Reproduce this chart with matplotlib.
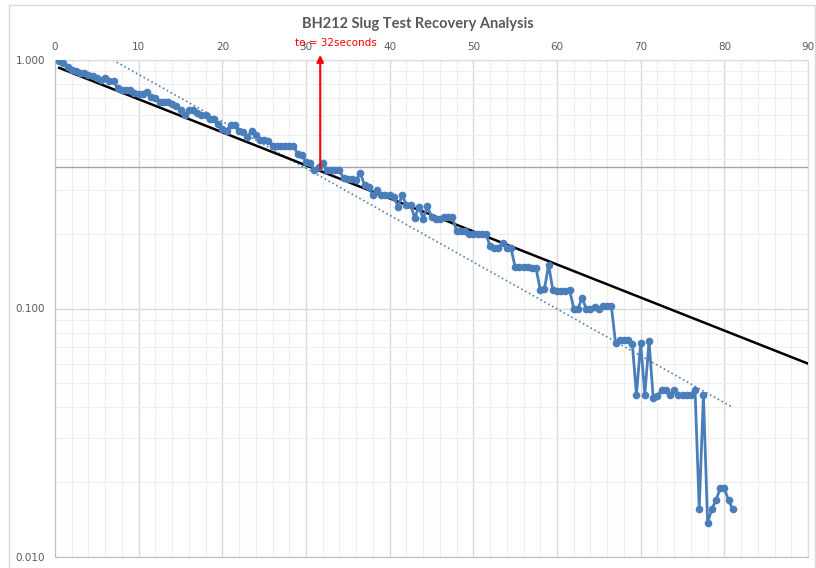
import numpy as np
import matplotlib
matplotlib.use("Agg")
import matplotlib.pyplot as plt
from matplotlib.patches import Rectangle
from matplotlib.ticker import FixedLocator, NullFormatter, LogLocator

# recovery data, H/Ho against time (s)
time_s = [0.5, 1.0, 1.5, 2.0, 2.5, 3.0, 3.5, 4.0, 4.5, 5.0,
          5.5, 6.0, 6.5, 7.0, 7.5, 8.0, 8.5, 9.0, 9.5, 10.0,
          10.5, 11.0, 11.5, 12.0, 12.5, 13.0, 13.5, 14.0, 14.5, 15.0,
          15.5, 16.0, 16.5, 17.0, 17.5, 18.0, 18.5, 19.0, 19.5, 20.0,
          20.5, 21.0, 21.5, 22.0, 22.5, 23.0, 23.5, 24.0, 24.5, 25.0,
          25.5, 26.0, 26.5, 27.0, 27.5, 28.0, 28.5, 29.0, 29.5, 30.0,
          30.5, 31.0, 31.5, 32.0, 32.5, 33.0, 33.5, 34.0, 34.5, 35.0,
          35.5, 36.0, 36.5, 37.0, 37.5, 38.0, 38.5, 39.0, 39.5, 40.0,
          40.5, 41.0, 41.5, 42.0, 42.5, 43.0, 43.5, 44.0, 44.5, 45.0,
          45.5, 46.0, 46.5, 47.0, 47.5, 48.0, 48.5, 49.0, 49.5, 50.0,
          50.5, 51.0, 51.5, 52.0, 52.5, 53.0, 53.5, 54.0, 54.5, 55.0,
          55.5, 56.0, 56.5, 57.0, 57.5, 58.0, 58.5, 59.0, 59.5, 60.0,
          60.5, 61.0, 61.5, 62.0, 62.5, 63.0, 63.5, 64.0, 64.5, 65.0,
          65.5, 66.0, 66.5, 67.0, 67.5, 68.0, 68.5, 69.0, 69.5, 70.0,
          70.5, 71.0, 71.5, 72.0, 72.5, 73.0, 73.5, 74.0, 74.5, 75.0,
          75.5, 76.0, 76.5, 77.0, 77.5, 78.0, 78.5, 79.0, 79.5, 80.0,
          80.5, 81.0]
h_ratio = [0.99, 0.97, 0.94, 0.91, 0.905, 0.89, 0.89, 0.87, 0.86, 0.85,
           0.83, 0.845, 0.82, 0.82, 0.77, 0.76, 0.76, 0.76, 0.735, 0.73,
           0.73, 0.74, 0.71, 0.70, 0.68, 0.68, 0.68, 0.665, 0.65, 0.63,
           0.60, 0.63, 0.63, 0.61, 0.60, 0.60, 0.577, 0.577, 0.553, 0.53,
           0.52, 0.548, 0.548, 0.52, 0.515, 0.49, 0.518, 0.50, 0.476, 0.476,
           0.47, 0.45, 0.45, 0.45, 0.45, 0.45, 0.45, 0.42, 0.415, 0.39,
           0.385, 0.36, 0.37, 0.386, 0.36, 0.36, 0.36, 0.36, 0.334, 0.333,
           0.333, 0.33, 0.35, 0.314, 0.307, 0.286, 0.30, 0.286, 0.286, 0.285,
           0.282, 0.257, 0.286, 0.26, 0.26, 0.232, 0.257, 0.23, 0.258, 0.233,
           0.23, 0.23, 0.233, 0.233, 0.233, 0.205, 0.205, 0.205, 0.20, 0.20,
           0.20, 0.20, 0.20, 0.178, 0.175, 0.175, 0.184, 0.175, 0.175, 0.1465,
           0.1465, 0.1465, 0.1465, 0.145, 0.145, 0.1187, 0.12, 0.15, 0.1187, 0.118,
           0.118, 0.118, 0.119, 0.10, 0.10, 0.11, 0.10, 0.10, 0.101, 0.10,
           0.102, 0.102, 0.102, 0.0724, 0.075, 0.0745, 0.0745, 0.072, 0.0449, 0.0729,
           0.045, 0.0742, 0.0435, 0.0445, 0.047, 0.047, 0.045, 0.047, 0.045, 0.045,
           0.045, 0.045, 0.047, 0.0156, 0.045, 0.0137, 0.0156, 0.0169, 0.0189, 0.0189,
           0.0169, 0.0156]

# straight-line fits (end points)
fit_t = [0.5, 90]
fit_h = [0.93, 0.060]
dot_t = [6.9, 81]
dot_h = [1.0, 0.040]

t0 = 31.7
h_037 = 0.37
arrow_base = 0.357

fig = plt.figure(figsize=(8.16, 5.68), dpi=100)
ax = fig.add_axes([55/816, 1-557/568, (808-55)/816, (557-60)/568])

ax.set_yscale('log')
ax.set_xlim(0, 90)
ax.set_ylim(0.01, 1.0)

# grid
ax.xaxis.set_major_locator(FixedLocator(np.arange(0, 91, 10)))
ax.xaxis.set_minor_locator(FixedLocator(np.arange(0, 91, 2)))
ax.yaxis.set_major_locator(FixedLocator([0.01, 0.1, 1.0]))
ax.yaxis.set_minor_locator(LogLocator(base=10, subs=np.arange(2, 10)))
ax.yaxis.set_minor_formatter(NullFormatter())
ax.set_yticklabels(['0.010', '0.100', '1.000'])
ax.grid(which='major', color='#d9d9d9', lw=1.0)
ax.grid(which='minor', color='#eeeeee', lw=0.8)
ax.set_axisbelow(True)

ax.xaxis.tick_top()
ax.tick_params(which='both', length=0, colors='#595959', labelsize=7.5)
ax.tick_params(axis='x', pad=6)
ax.tick_params(axis='y', pad=7)
for s in ax.spines.values():
    s.set_color('#d9d9d9')
ax.spines['left'].set_color('#bfbfbf')
ax.spines['bottom'].set_color('#bfbfbf')

ax.axhline(h_037, color='#a6a6a6', lw=1.0, zorder=1)

ax.plot(dot_t, dot_h, color='#4f81bd', ls=':', lw=1.2, zorder=2)
ax.plot(fit_t, fit_h, color='black', lw=1.8, zorder=3)
ax.plot(time_s, h_ratio, color='#4a7ebb', lw=2, marker='o', ms=4.5, zorder=4)

ax.annotate('', xy=(t0, 1.075), xytext=(t0, arrow_base),
            arrowprops=dict(arrowstyle='-|>', color='red', lw=1.5, mutation_scale=10),
            annotation_clip=False, zorder=5)
ax.text(33.6, 1.17, 'to = 32seconds', color='red', fontsize=7.5, ha='center',
        va='center', clip_on=False)

fig.text(0.512, 0.958, 'BH212 Slug Test Recovery Analysis', fontsize=10.5,
         fontweight='bold', color='#595959', ha='center', va='center', family='Lato')

fig.patches.append(Rectangle((9/816, -0.01), 806/816, 1.0-5/568+0.01,
                             transform=fig.transFigure, fill=False,
                             edgecolor='#d9d9d9', lw=1))

fig.savefig('out.png', dpi=100)
